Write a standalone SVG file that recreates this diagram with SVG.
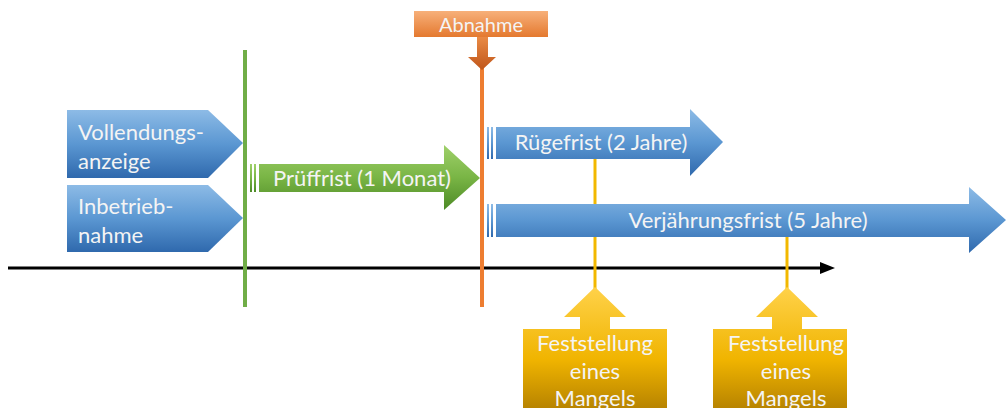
<svg xmlns="http://www.w3.org/2000/svg" width="1006" height="408" viewBox="0 0 1006 408">
<defs>
<linearGradient id="gb" x1="0" y1="0" x2="0" y2="1"><stop offset="0" stop-color="#8dbbe6"/><stop offset="0.5" stop-color="#5b97d2"/><stop offset="1" stop-color="#2f69ad"/></linearGradient>
<linearGradient id="gg" x1="0" y1="0" x2="0" y2="1"><stop offset="0" stop-color="#9fd06a"/><stop offset="0.5" stop-color="#79b545"/><stop offset="1" stop-color="#4d8a26"/></linearGradient>
<linearGradient id="go" x1="0" y1="0" x2="0" y2="1"><stop offset="0" stop-color="#f7b07a"/><stop offset="1" stop-color="#e4792f"/></linearGradient>
<linearGradient id="god" x1="0" y1="0" x2="0" y2="1"><stop offset="0" stop-color="#e98a45"/><stop offset="1" stop-color="#c0561a"/></linearGradient>
<linearGradient id="gy" x1="0" y1="0" x2="0" y2="1"><stop offset="0" stop-color="#ffd24a"/><stop offset="0.6" stop-color="#f0b400"/><stop offset="1" stop-color="#b88400"/></linearGradient>
<style>
text{font-family:Lato,"Open Sans","Liberation Sans",sans-serif;fill:#f4f4f4;font-size:22px}
.c{text-anchor:middle}
.tl{stroke-width:4}
</style>
</defs>
<g id="connectors">
<line x1="8" y1="268" x2="822" y2="268" stroke="#000" stroke-width="3"/>
<path d="M820,262 L835,268 L820,274 z" fill="#000"/>
<line x1="245" y1="50" x2="245" y2="307" stroke="#70ad47" class="tl"/>
<line x1="482" y1="68" x2="482" y2="307" stroke="#ed7d31" class="tl"/>
<line x1="595" y1="158" x2="595" y2="290" stroke="#f2b800" stroke-width="3"/>
<line x1="787" y1="236" x2="787" y2="290" stroke="#f2b800" stroke-width="3"/>
</g>
<g id="vollendungsanzeige">
<path d="M67,110 L208,110 L243,143 L208,178 L67,178 z" fill="url(#gb)"/>
<text x="78" y="140">Vollendungs-</text>
<text x="78" y="169">anzeige</text>
</g>
<g id="inbetriebnahme">
<path d="M67,185 L208,185 L243,218 L208,252 L67,252 z" fill="url(#gb)"/>
<text x="78" y="214">Inbetrieb-</text>
<text x="78" y="243">nahme</text>
</g>
<g id="pruffrist">
<rect x="250" y="164" width="2" height="28" fill="url(#gg)"/>
<rect x="254" y="164" width="2" height="28" fill="url(#gg)"/>
<path d="M259,164 L444,164 L444,145 L480,178 L444,210 L444,192 L259,192 z" fill="url(#gg)"/>
<text class="c" x="362" y="186">Prüffrist (1 Monat)</text>
</g>
<g id="abnahme">
<rect x="414" y="11" width="134" height="26" fill="url(#go)"/>
<path d="M477,37 L488,37 L488,57 L496,57 L482,70 L468,57 L477,57 z" fill="url(#god)"/>
<text class="c" x="481" y="32" style="font-size:20px">Abnahme</text>
</g>
<g id="rugefrist">
<rect x="487" y="127" width="2" height="32" fill="url(#gb)"/>
<rect x="491" y="127" width="2" height="32" fill="url(#gb)"/>
<path d="M496,127 L690,127 L690,109 L723,142 L690,176 L690,159 L496,159 z" fill="url(#gb)"/>
<text class="c" x="601" y="150">Rügefrist (2 Jahre)</text>
</g>
<g id="verjahrungsfrist">
<rect x="487" y="204" width="2" height="33" fill="url(#gb)"/>
<rect x="491" y="204" width="2" height="33" fill="url(#gb)"/>
<path d="M496,204 L969,204 L969,187 L1006,220 L969,253 L969,237 L496,237 z" fill="url(#gb)"/>
<text class="c" x="748" y="228">Verjährungsfrist (5 Jahre)</text>
</g>
<g id="mangel1">
<path d="M595,287 L626,317 L610,317 L610,329 L667,329 L667,408 L523,408 L523,329 L580,329 L580,317 L564,317 z" fill="url(#gy)"/>
<text class="c" x="595" y="351">Feststellung</text>
<text class="c" x="595" y="379">eines</text>
<text class="c" x="595" y="406">Mangels</text>
</g>
<g id="mangel2">
<path d="M787,287 L818,317 L802,317 L802,329 L847,329 L847,408 L713,408 L713,329 L772,329 L772,317 L756,317 z" fill="url(#gy)"/>
<text class="c" x="786" y="351">Feststellung</text>
<text class="c" x="786" y="379">eines</text>
<text class="c" x="786" y="406">Mangels</text>
</g>
</svg>
